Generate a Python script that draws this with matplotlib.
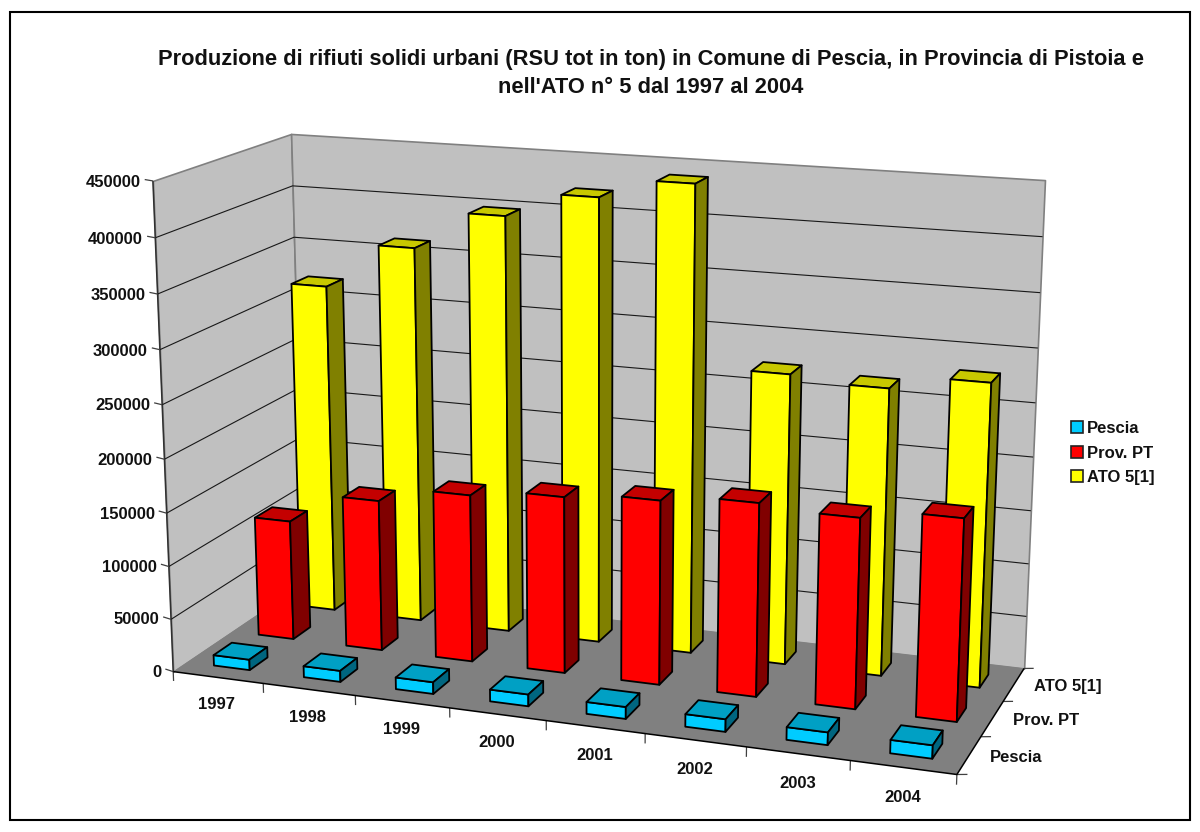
import numpy as np
import matplotlib
matplotlib.use("Agg")
from matplotlib import pyplot as plt
from matplotlib.patches import Patch, Rectangle
from mpl_toolkits.mplot3d import proj3d
from mpl_toolkits.mplot3d.art3d import Poly3DCollection, Line3DCollection

plt.rcParams['font.family'] = ['Liberation Sans', 'DejaVu Sans']
plt.rcParams['font.weight'] = 'bold'

anni = ['1997', '1998', '1999', '2000', '2001', '2002', '2003', '2004']
serie = ['Pescia', 'Prov. PT', 'ATO 5[1]']
pescia = [10000, 10500, 11000, 11000, 11000, 11500, 11500, 12000]
prov_pt = [115000, 144000, 158500, 166000, 172000, 179000, 175000, 184000]
ato5 = [319000, 362000, 398000, 421000, 439000, 273000, 268000, 281000]
tick_z = [0, 50000, 100000, 150000, 200000, 250000, 300000, 350000, 400000, 450000]
titolo = ("Produzione di rifiuti solidi urbani (RSU tot in ton) in Comune di Pescia, "
          "in Provincia di Pistoia e\nnell'ATO n° 5 dal 1997 al 2004")

colori = {
    'Pescia': ('#00CCFF', '#00A0C4', '#006680'),
    'Prov. PT': ('#FF0000', '#C40000', '#800000'),
    'ATO 5[1]': ('#FFFF00', '#C8C800', '#808000'),
}

H = 832
ZMAX = tick_z[-1]
NX = len(anni)
NY = len(serie)

# corners of the chart box: data (x, y, z) -> picture pixel, used to fit the camera
angoli = [
    ((0, 0, 0), (173, 672)),
    ((NX, 0, 0), (957, 774)),
    ((NX, NY, 0), (1024, 669)),
    ((0, NY, 0), (304, 583)),
    ((0, NY, ZMAX), (291, 134)),
    ((NX, NY, ZMAX), (1045, 180)),
    ((0, 0, ZMAX), (153, 181)),
]


def camera(corrispondenze):
    A = []
    for (x, y, z), (px, py) in corrispondenze:
        z = z / ZMAX
        v = H - py
        A.append([x, y, z, 1, 0, 0, 0, 0, -px * x, -px * y, -px * z, -px])
        A.append([0, 0, 0, 0, x, y, z, 1, -v * x, -v * y, -v * z, -v])
    P = np.linalg.svd(np.array(A, dtype=float))[2][-1].reshape(3, 4)
    P[:, 2] /= ZMAX
    if P[2, 3] < 0:
        P = -P
    # third row only keeps the matrix invertible, draw order comes from zorder
    return np.array([P[0], P[1], [-0.001, 0.001, 1e-9, 0.1], P[2]])


M = camera(angoli)

fig = plt.figure(figsize=(12, 8.32), dpi=100)
fig.add_artist(Rectangle((10 / 1200, 1 - 820 / H), 1180 / 1200, 808 / H, transform=fig.transFigure,
                         fill=False, edgecolor='black', linewidth=1.5))

# square axes wider than the figure height, so 2D limits are plain pixels
ax = fig.add_axes([0, -184 / H, 1, 1200 / H], projection='3d')
ax.set_axis_off()
ax.patch.set_visible(False)
ax.computed_zorder = False
ax.get_proj = lambda: M
ax.viewLim.intervalx = (0, 1200)
ax.viewLim.intervaly = (-184, 1016)


def faccia(punti, colore, bordo='none', zorder=1):
    ax.add_collection3d(Poly3DCollection([punti], facecolors=colore, edgecolors=bordo,
                                         linewidths=1.2, zorder=zorder))


def linee(segmenti, colore='#404040', lw=0.9, zorder=2):
    ax.add_collection3d(Line3DCollection(segmenti, colors=colore, linewidths=lw, zorder=zorder))


def etichetta(x, y, z, testo, ha, dy=0):
    u, v, _ = proj3d.proj_transform(x, y, z, M)
    ax.text2D(u, v - dy, testo, transform=ax.transData, ha=ha, va='center', fontsize=12, color='#111111')


# walls and floor
faccia([(0, 0, 0), (0, NY, 0), (0, NY, ZMAX), (0, 0, ZMAX)], '#C0C0C0', '#808080')
faccia([(0, NY, 0), (NX, NY, 0), (NX, NY, ZMAX), (0, NY, ZMAX)], '#C0C0C0', '#808080')
faccia([(0, 0, 0), (NX, 0, 0), (NX, NY, 0), (0, NY, 0)], '#808080')
linee([[(0, 0, 0), (0, 0, ZMAX)]], '#303030', 1.1)

griglia = [[(0, 0, z), (0, NY, z), (NX, NY, z)] for z in tick_z[1:-1]]
linee(griglia, '#181818', 0.8)

for z in tick_z:
    linee([[(0, 0, z), (-0.11, 0.04, z)]])
    etichetta(-0.155, 0.04, z, str(z), 'right', dy=3.5)

# front and right edges of the floor
linee([[(0, 0, 0), (NX, 0, 0), (NX, NY, 0)]], 'black', 1.1, 3)

for i in range(NX + 1):
    linee([[(i, 0, 0), (i, 0, -9000)]])
for i, anno in enumerate(anni):
    etichetta(i * 0.99 + 0.65, -0.33, -14000, anno, 'center')
for j in range(NY + 1):
    linee([[(NX, j, 0), (NX + 0.09, j + 0.035, 0)]])
for j, nome in enumerate(serie):
    etichetta(NX + 0.2, j + 0.5, 0, nome, 'left', dy=-1)

# bars, back row first and left to right in each row
larghezza = 0.4
vuoto = (0, 0, 0, 0)
valori = {'Pescia': pescia, 'Prov. PT': prov_pt, 'ATO 5[1]': ato5}
for j in reversed(range(NY)):
    nome = serie[j]
    fronte, sopra, lato = colori[nome]
    bordi = [vuoto, 'black', 'black', vuoto, vuoto, 'black']
    for i, v in enumerate(valori[nome]):
        ax.bar3d(i + 0.3, j + 0.3, 0, larghezza, larghezza, v, shade=False,
                 color=[vuoto, sopra, fronte, vuoto, vuoto, lato],
                 edgecolor=matplotlib.colors.to_rgba_array(bordi), linewidth=1.3,
                 zorder=10 + (NY - j) * 10 + i * 0.5)

fig.text(651 / 1200, 1 - 73.5 / H, titolo, ha='center', va='center', fontsize=15.75,
         linespacing=1.4, color='#111111')

handles = [Patch(facecolor=colori[s][0], edgecolor='#222222', linewidth=1.2, label=s) for s in serie]
fig.legend(handles=handles, loc='center left', bbox_to_anchor=(1056 / 1200, 1 - 453 / H), frameon=False,
           fontsize=12, handlelength=0.72, handleheight=0.72, handletextpad=0.24, labelspacing=0.56,
           labelcolor='#111111')

fig.savefig('out.png', dpi=100)
